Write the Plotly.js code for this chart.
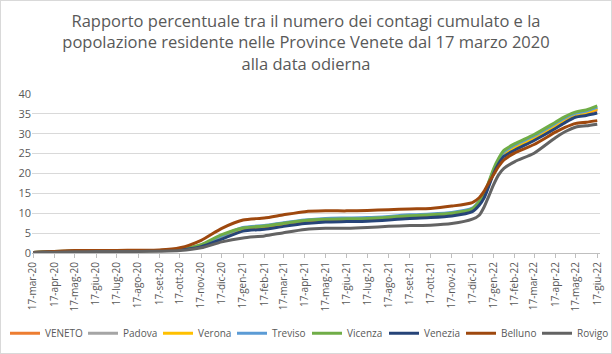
<!DOCTYPE html>
<html><head><meta charset="utf-8">
<script src="https://cdn.plot.ly/plotly-3.0.1.min.js"></script>
<style>
html,body{margin:0;padding:0;background:#fff;}
#wrap{width:612px;height:354px;box-sizing:border-box;border:1px solid #d9d9d9;overflow:hidden;}
#chart{width:610px;height:352px;}
</style></head>
<body><div id="wrap"><div id="chart"></div></div>
<script>
const dates = ['2020-03-17','2020-04-17','2020-05-17','2020-06-17','2020-07-17','2020-08-17','2020-09-17','2020-10-17','2020-11-17','2020-12-17',
'2021-01-17','2021-02-17','2021-03-17','2021-04-17','2021-05-17','2021-06-17','2021-07-17','2021-08-17','2021-09-17','2021-10-17','2021-11-17','2021-12-17',
'2021-12-27','2022-01-03','2022-01-10','2022-01-17','2022-01-24','2022-02-01','2022-02-17','2022-03-17','2022-04-17','2022-05-01','2022-05-17','2022-06-01','2022-06-17'];

const veneto  = [0.1,0.33,0.48,0.53,0.53,0.58,0.63,0.88,1.9,4.1,5.9,6.4,7.1,7.8,8.2,8.3,8.4,8.7,9.1,9.3,9.7,10.8,12.5,14.2,17.2,20.3,22.8,24.8,26.6,28.9,32.0,33.4,34.6,35.1,36.0];
const padova  = [0.1,0.35,0.5,0.55,0.55,0.6,0.65,0.9,1.9,4.2,6.1,6.6,7.3,8.0,8.4,8.5,8.6,8.9,9.3,9.5,9.9,11.0,12.7,14.4,17.4,20.6,23.0,25.1,26.9,29.2,32.3,33.7,35.0,35.5,36.5];
const verona  = [0.1,0.35,0.5,0.55,0.55,0.6,0.65,0.9,1.9,4.1,6.0,6.5,7.2,7.9,8.3,8.4,8.5,8.8,9.2,9.4,9.8,10.9,12.6,14.3,17.3,20.4,22.9,24.9,26.6,29.0,32.1,33.5,34.8,35.3,36.3];
const treviso = [0.1,0.35,0.5,0.55,0.55,0.6,0.65,0.9,2.0,4.3,6.4,6.9,7.6,8.3,8.7,8.8,8.9,9.2,9.6,9.8,10.2,11.3,13.0,14.6,17.6,20.8,23.2,25.4,27.2,29.5,32.6,34.0,35.2,35.7,36.7];
const vicenza = [0.1,0.3,0.45,0.5,0.5,0.55,0.6,0.85,2.1,4.6,6.3,6.8,7.5,8.2,8.5,8.6,8.7,9.0,9.4,9.6,10.0,11.1,12.9,14.7,17.9,21.2,23.7,25.8,27.5,29.8,32.9,34.3,35.5,36.0,37.0];
const venezia = [0.1,0.3,0.45,0.5,0.5,0.55,0.6,0.8,1.6,3.5,5.5,6.0,6.7,7.4,7.8,7.9,8.0,8.3,8.7,8.9,9.3,10.4,12.0,13.8,16.8,20.0,22.4,24.3,25.9,28.3,31.3,32.8,34.2,34.6,35.2];
const belluno = [0.1,0.4,0.6,0.65,0.65,0.7,0.75,1.3,3.2,6.2,8.3,8.8,9.6,10.4,10.6,10.6,10.7,10.9,11.1,11.2,11.8,12.7,13.9,15.5,17.7,19.7,21.7,23.4,25.2,27.3,30.4,31.6,32.6,32.9,33.3];
const rovigo  = [0.05,0.2,0.3,0.35,0.35,0.4,0.45,0.6,1.3,2.8,3.8,4.3,5.1,5.9,6.2,6.2,6.4,6.7,6.9,7.0,7.4,8.5,9.5,11.5,14.3,17.2,19.6,21.3,23.0,25.1,29.0,30.5,31.7,32.0,32.4];

const seriesNames = ['VENETO','Padova','Verona','Treviso','Vicenza','Venezia','Belluno','Rovigo'];
const seriesValues = [veneto,padova,verona,treviso,vicenza,venezia,belluno,rovigo];
const seriesColors = ['#ED7D31','#A5A5A5','#FFC000','#5B9BD5','#70AD47','#264478','#9E480E','#636363'];

const tickDates = ['2020-03-17','2020-04-17','2020-05-17','2020-06-17','2020-07-17','2020-08-17','2020-09-17','2020-10-17','2020-11-17','2020-12-17',
'2021-01-17','2021-02-17','2021-03-17','2021-04-17','2021-05-17','2021-06-17','2021-07-17','2021-08-17','2021-09-17','2021-10-17','2021-11-17','2021-12-17',
'2022-01-17','2022-02-17','2022-03-17','2022-04-17','2022-05-17','2022-06-17'];
const tickLabels = ['17-mar-20','17-apr-20','17-mag-20','17-giu-20','17-lug-20','17-ago-20','17-set-20','17-ott-20','17-nov-20','17-dic-20',
'17-gen-21','17-feb-21','17-mar-21','17-apr-21','17-mag-21','17-giu-21','17-lug-21','17-ago-21','17-set-21','17-ott-21','17-nov-21','17-dic-21',
'17-gen-22','17-feb-22','17-mar-22','17-apr-22','17-mag-22','17-giu-22'];

// one legend box per series, laid out in a single row (legend positions in px)
const legendLeftPx = [4, 82, 157, 231, 306, 383, 460, 536];
const W = 610;

const traces = seriesNames.map((n,i)=>({
  type:'scatter', mode:'lines', name:n, x:dates, y:seriesValues[i],
  legend: i === 0 ? 'legend' : 'legend' + (i+1),
  line:{color:seriesColors[i], width:3, shape:'spline', smoothing:0.6}
}));

const font = 'Open Sans, sans-serif';
const layout = {
  width:W, height:352,
  paper_bgcolor:'#fff', plot_bgcolor:'#fff',
  margin:{l:31, r:11, t:93, b:100},
  title:{text:'Rapporto percentuale tra il numero dei contagi cumulato e la<br>popolazione residente nelle Province Venete dal 17 marzo 2020<br>alla data odierna',
    font:{family:font, size:16.5, color:'#595959'}, x:0.5, xanchor:'center', yref:'container', y:0.927, yanchor:'top'},
  showlegend:true,
  xaxis:{type:'date', range:['2020-03-15 12:00','2022-06-21'], tickmode:'array', tickvals:tickDates, ticktext:tickLabels,
    tickangle:-90, tickfont:{family:font, size:10, color:'#595959'}, showgrid:false, zeroline:false,
    showline:true, linecolor:'#bfbfbf', linewidth:1, ticks:'outside', ticklen:4, tickcolor:'#bfbfbf'},
  yaxis:{range:[0,40], tickvals:[0,5,10,15,20,25,30,35,40], tickfont:{family:font, size:11, color:'#595959'},
    showgrid:true, gridcolor:'#d9d9d9', gridwidth:1, zeroline:false, showline:false, ticks:'', ticklen:0}
};
legendLeftPx.forEach((px,i)=>{
  const key = i === 0 ? 'legend' : 'legend' + (i+1);
  layout[key] = {orientation:'h', xref:'container', x:px/W, xanchor:'left', yref:'container', y:0.015, yanchor:'bottom',
    bgcolor:'rgba(0,0,0,0)', font:{family:font, size:10, color:'#595959'}, itemwidth:30};
});
Plotly.newPlot('chart', traces, layout, {displayModeBar:false, staticPlot:true});
</script></body></html>
